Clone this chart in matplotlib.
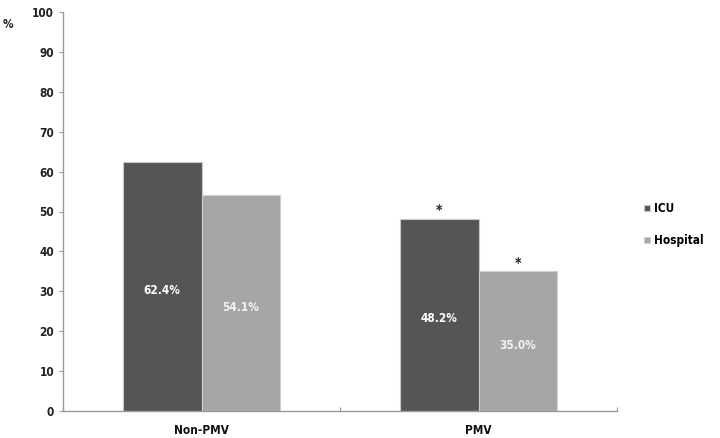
import matplotlib.pyplot as plt
import numpy as np

plt.rcParams["font.family"] = ["DejaVu Sans"]
plt.rcParams["font.stretch"] = "condensed"
plt.rcParams["font.weight"] = "bold"

groups = ["Non-PMV", "PMV"]
series = ["ICU", "Hospital"]
icu = [62.4, 48.2]
hospital = [54.1, 35.0]
icu_labels = ["62.4%", "48.2%"]
hospital_labels = ["54.1%", "35.0%"]
significant = [False, True]

fig = plt.figure(figsize=(7.2, 4.38), dpi=100)
ax = fig.add_axes([63 / 720, 27 / 438, 554 / 720, 399 / 438])

x = np.arange(len(groups))
w = 0.285
b1 = ax.bar(x - w / 2, icu, w, color="#555555", edgecolor="#c8c8c8", linewidth=0.8, label=series[0])
b2 = ax.bar(x + w / 2, hospital, w, color="#a6a6a6", edgecolor="#d0d0d0", linewidth=0.8, label=series[1])

for bars, labels, col in [(b1, icu_labels, "white"), (b2, hospital_labels, "#f2f2f2")]:
    for rect, lab, sig in zip(bars, labels, significant):
        h = rect.get_height()
        cx = rect.get_x() + rect.get_width() / 2
        ax.text(cx, h / 2 - 1, lab, ha="center", va="center", color=col, fontsize=8.5)
        if sig:
            ax.text(cx, h + 0.3, "*", ha="center", va="bottom", color="#222222", fontsize=10)

ax.set_xlim(-0.5, 1.5)
ax.set_ylim(0, 100)
ax.set_yticks(range(0, 101, 10))
ax.set_xticks([-0.5, 0.5, 1.5])
ax.set_xticklabels([])
ax.tick_params(axis="both", color="#999999", length=3, labelsize=8.5, labelcolor="#222222")
ax.tick_params(axis="x", direction="in")
for s in ["top", "right"]:
    ax.spines[s].set_visible(False)
for s in ["left", "bottom"]:
    ax.spines[s].set_color("#999999")
    ax.spines[s].set_linewidth(1.0)

for xi, g in zip(x, groups):
    ax.text(xi, -3.2, g, ha="center", va="top", fontsize=8.5, color="#111111")

fig.text(3 / 720, 1 - 25 / 438, "%", fontsize=8.5, va="center", ha="left", color="#222222")

leg = ax.legend(loc="upper left", bbox_to_anchor=(1.03, 0.55), frameon=False, fontsize=8.5,
                handlelength=0.5, handleheight=0.5, handletextpad=0.3, labelspacing=1.6)

fig.savefig("out.png", dpi=100)
